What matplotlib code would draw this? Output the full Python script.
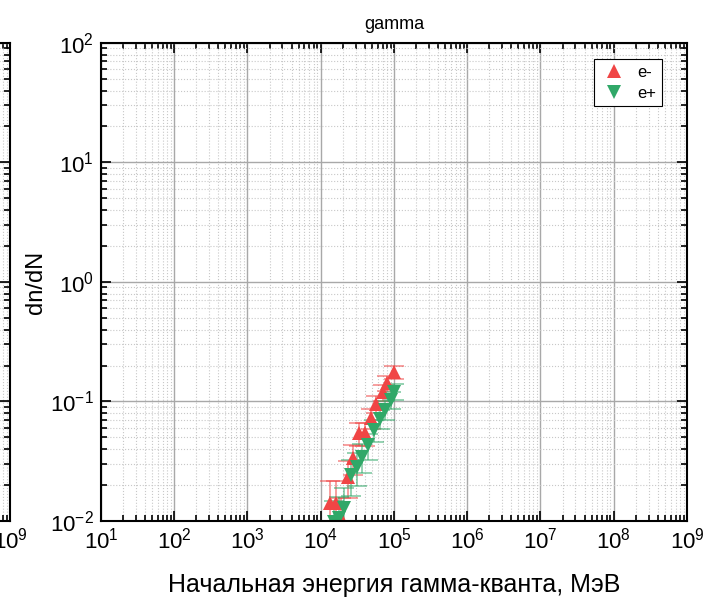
import matplotlib
matplotlib.use("Agg")
import matplotlib.pyplot as plt
import numpy as np
from matplotlib.ticker import LogLocator, NullFormatter

plt.rcParams['font.family'] = ['Liberation Sans', 'DejaVu Sans']
plt.rcParams['mathtext.fontset'] = 'custom'
plt.rcParams['mathtext.rm'] = 'Liberation Sans'
plt.rcParams['mathtext.it'] = 'Liberation Sans'
plt.rcParams['axes.unicode_minus'] = False

# e- (red, triangle up)
em_x = [1.33e4, 1.64e4, 1.92e4, 2.32e4, 2.77e4, 3.34e4, 4.0e4, 4.78e4, 5.77e4, 6.97e4, 8.15e4, 1.0e5]
em_y = [0.0142, 0.0142, 0.0105, 0.0235, 0.0336, 0.0540, 0.0543, 0.0726, 0.0957, 0.119, 0.143, 0.175]
em_err = [0.0072, 0.0072, 0.0050, 0.0080, 0.0095, 0.0120, 0.0120, 0.0135, 0.0160, 0.0180, 0.0200, 0.0220]

# e+ (green, triangle down)
ep_x = [1.5e4, 1.8e4, 2.1e4, 2.6e4, 3.1e4, 3.7e4, 4.4e4, 5.3e4, 6.4e4, 7.5e4, 9.0e4, 1.0e5]
ep_y = [0.0098, 0.0106, 0.0129, 0.0243, 0.0285, 0.0345, 0.043, 0.058, 0.072, 0.085, 0.103, 0.121]
ep_err = [0.0050, 0.0052, 0.0058, 0.0080, 0.0088, 0.0095, 0.0105, 0.0120, 0.0135, 0.0150, 0.0165, 0.0180]

red = '#f04545'
green = '#30a868'

fig = plt.figure(figsize=(7.22, 6.0), dpi=100)

# neighbouring panel, only its right edge is visible
ax0 = fig.add_axes([10 / 722 - 0.8116, 0.1317, 0.8116, 0.7967])
ax = fig.add_axes([101 / 722, 0.1317, 0.8116, 0.7967])


def style(a):
    a.set_xscale('log')
    a.set_yscale('log')
    a.set_xlim(1e1, 1e9)
    a.set_ylim(1e-2, 1e2)
    a.xaxis.set_major_locator(LogLocator(base=10, numticks=20))
    a.xaxis.set_minor_locator(LogLocator(base=10, subs=np.arange(2, 10), numticks=20))
    a.xaxis.set_minor_formatter(NullFormatter())
    a.yaxis.set_minor_formatter(NullFormatter())
    a.grid(True, which='major', color='#a8a8a8', linewidth=1.0, linestyle='-')
    a.grid(True, which='minor', color='#c8c8c8', linewidth=0.8, linestyle=':')
    a.set_axisbelow(True)
    a.tick_params(which='both', direction='in', top=True, right=True, labelsize=16, width=1.2)
    a.tick_params(which='major', length=7, pad=5)
    a.tick_params(which='minor', length=4)
    for s in a.spines.values():
        s.set_linewidth(1.5)


style(ax0)
style(ax)
# only the right-most label of the neighbouring panel reaches into view
ax0.tick_params(axis='y', labelleft=False)
ax0.set_xticks([1e9])

em = ax.errorbar(em_x, em_y, yerr=[np.minimum(em_err, np.array(em_y) * 0.95), em_err],
                 fmt='^', color=red, ecolor=red, elinewidth=1.2, capsize=7, capthick=1.2,
                 markersize=10, label='e-')
ep = ax.errorbar(ep_x, ep_y, yerr=[np.minimum(ep_err, np.array(ep_y) * 0.95), ep_err],
                 fmt='v', color=green, ecolor=green, elinewidth=1.2, capsize=7, capthick=1.2,
                 markersize=10, label='e+')
for cont in (em, ep):
    cont[0].set_markeredgewidth(0)
    for art in cont[1] + cont[2]:
        art.set_alpha(0.6)

ax.set_title('gamma', fontsize=13, pad=10)
ax.set_ylabel('dn/dN', fontsize=17, labelpad=2)
ax.set_xlabel('Начальная энергия гамма-кванта, МэВ', fontsize=18, labelpad=14)

leg = ax.legend([em[0], ep[0]], ['e-', 'e+'], loc='upper right',
                bbox_to_anchor=(0.957, 0.9665), fontsize=12,
                frameon=True, fancybox=False, edgecolor='black', framealpha=1,
                handletextpad=0.6, borderpad=0.35, handlelength=1.6,
                markerscale=1.0, borderaxespad=0, labelspacing=0.35)
leg.get_frame().set_linewidth(0.8)

fig.savefig('out.png', dpi=100)
